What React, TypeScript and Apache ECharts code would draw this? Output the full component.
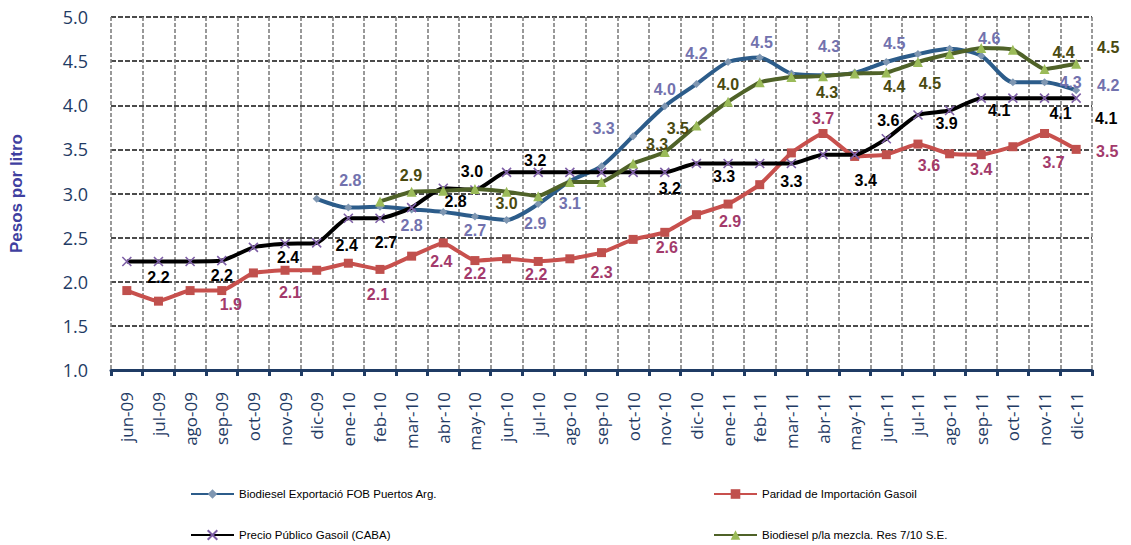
import React, { useEffect, useRef } from "react";
import * as echarts from "echarts";

const categories = [
  "jun-09", "jul-09", "ago-09", "sep-09", "oct-09", "nov-09", "dic-09",
  "ene-10", "feb-10", "mar-10", "abr-10", "may-10", "jun-10", "jul-10",
  "ago-10", "sep-10", "oct-10", "nov-10", "dic-10", "ene-11", "feb-11",
  "mar-11", "abr-11", "may-11", "jun-11", "jul-11", "ago-11", "sep-11",
  "oct-11", "nov-11", "dic-11",
];

const biodieselExport: (number | null)[] = [
  null, null, null, null, null, null, 2.94, 2.84, 2.85, 2.82, 2.79, 2.74,
  2.7, 2.88, 3.14, 3.31, 3.65, 3.99, 4.24, 4.49, 4.54, 4.36, 4.34, 4.37,
  4.49, 4.58, 4.64, 4.56, 4.26, 4.26, 4.17,
];

const paridadGasoil: (number | null)[] = [
  1.9, 1.78, 1.9, 1.9, 2.1, 2.13, 2.13, 2.21, 2.14, 2.29, 2.44, 2.24, 2.26,
  2.23, 2.26, 2.33, 2.48, 2.56, 2.76, 2.88, 3.1, 3.46, 3.68, 3.42, 3.44,
  3.56, 3.45, 3.44, 3.53, 3.68, 3.5,
];

const precioGasoil: (number | null)[] = [
  2.23, 2.23, 2.23, 2.24, 2.39, 2.43, 2.44, 2.72, 2.72, 2.84, 3.06, 3.04,
  3.24, 3.24, 3.24, 3.24, 3.24, 3.24, 3.34, 3.34, 3.34, 3.34, 3.44, 3.44,
  3.62, 3.89, 3.94, 4.08, 4.08, 4.08, 4.08,
];

const biodieselMezcla: (number | null)[] = [
  null, null, null, null, null, null, null, null, 2.91, 3.02, 3.03, 3.05,
  3.02, 2.97, 3.13, 3.13, 3.34, 3.47, 3.77, 4.04, 4.26, 4.32, 4.33, 4.36,
  4.37, 4.49, 4.58, 4.65, 4.63, 4.41, 4.47,
];

const yTicks = [1.0, 1.5, 2.0, 2.5, 3.0, 3.5, 4.0, 4.5, 5.0];

const seriesNames = [
  "Biodiesel Exportació FOB Puertos Arg.",
  "Paridad de Importación Gasoil",
  "Precio Público Gasoil (CABA)",
  "Biodiesel p/la mezcla. Res 7/10 S.E.",
];

// label placements (index -> offset from point)
const blueLabelPos: Record<number, [number, number]> = {
  7: [2, -27], 9: [0, 16], 11: [0, 14], 13: [-3, 19], 14: [0, 22],
  15: [2, -38], 17: [0, -17], 18: [0, -31], 20: [2, -15], 22: [6, -29],
  24: [8, -19], 27: [8, -17], 29: [26, 0], 30: [32, -5],
};
const redLabelPos: Record<number, [number, number]> = {
  3: [9, 14], 5: [5, 22], 8: [-2, 25], 10: [-2, 19], 11: [0, 13],
  13: [-2, 13], 15: [0, 20], 17: [2, 15], 19: [2, 17], 22: [0, -15],
  25: [11, 21], 27: [0, 15], 29: [9, 29], 30: [31, 2],
};
const blackLabelPos: Record<number, [number, number]> = {
  1: [0, 16], 3: [0, 15], 5: [3, 14], 6: [30, 3], 8: [6, 24], 9: [44, -6],
  11: [-3, -18], 13: [-3, -12], 17: [5, 16], 19: [-4, 13], 21: [0, 18],
  23: [11, 26], 24: [2, -18], 26: [-3, 13], 27: [18, 12], 29: [16, 15],
  30: [30, 20],
};
const greenLabelPos: Record<number, [number, number]> = {
  8: [31, -26], 12: [0, 12], 16: [24, -19], 17: [13, -24], 19: [0, -17],
  22: [4, 16], 24: [8, 14], 25: [12, 21], 29: [19, -17], 30: [32, -16],
};

function buildData(
  values: (number | null)[],
  pos: Record<number, [number, number]>,
  color: string
) {
  return values.map((v, i) => {
    if (v === null) return null;
    const p = pos[i];
    if (!p) return { value: v };
    return {
      value: v,
      label: {
        show: true,
        position: "inside",
        offset: p,
        align: "center",
        verticalAlign: "middle",
        color,
        fontFamily: "Liberation Sans, Arial, sans-serif",
        fontWeight: "bold",
        fontSize: 16,
        formatter: (d: any) => Number(d.value).toFixed(1),
      },
    };
  });
}

export default function App() {
  const ref = useRef<HTMLDivElement>(null);

  useEffect(() => {
    if (!ref.current) return;
    const chart = echarts.init(ref.current, null, { renderer: "svg" });

    const mkSeries = (
      name: string,
      values: (number | null)[],
      pos: Record<number, [number, number]>,
      lineColor: string,
      symbol: string,
      symbolSize: number,
      symColor: string,
      labelColor: string,
      z: number,
      smooth: number | boolean
    ) => ({
      name,
      type: "line",
      data: buildData(values, pos, labelColor),
      smooth,
      symbol,
      symbolSize,
      showSymbol: true,
      connectNulls: false,
      z,
      lineStyle: { color: lineColor, width: 4 },
      itemStyle: {
        color: symColor,
        borderColor: symColor,
        borderWidth: symbol.startsWith("path://") ? 1.6 : 0,
      },
      label: { show: false },
      emphasis: { disabled: true },
    });

    const legendBase = {
      orient: "vertical",
      top: 488,
      padding: 0,
      itemWidth: 43,
      itemHeight: 12,
      itemGap: 29,
      selectedMode: false,
      textStyle: {
        fontFamily: "Liberation Sans, Arial, sans-serif",
        fontSize: 11.5,
        color: "#000",
      },
    };

    const option: any = {
      animation: false,
      backgroundColor: "#ffffff",
      grid: { left: 107, top: 17, right: 39, bottom: 175, containLabel: false },
      legend: [
        { ...legendBase, left: 190, data: [seriesNames[0], seriesNames[2]] },
        { ...legendBase, left: 713, data: [seriesNames[1], seriesNames[3]] },
      ],
      xAxis: {
        type: "category",
        data: categories,
        boundaryGap: true,
        axisLine: { show: true, lineStyle: { color: "#1F3B64", width: 3 } },
        axisTick: {
          show: true,
          alignWithLabel: false,
          length: 6,
          lineStyle: { color: "#1F3B64", width: 3 },
        },
        axisLabel: {
          interval: 0,
          rotate: 90,
          margin: 22,
          color: "#1F3B64",
          fontFamily: "Open Sans, sans-serif",
          fontSize: 17,
        },
        splitLine: {
          show: true,
          interval: 0,
          lineStyle: { color: "#808080", width: 1.6, type: [4, 2] },
        },
      },
      yAxis: {
        type: "value",
        min: 1,
        max: 5,
        interval: 0.5,
        name: "Pesos por litro",
        nameLocation: "middle",
        nameRotate: 90,
        nameGap: 86,
        nameTextStyle: {
          color: "#3F3FA0",
          fontFamily: "Liberation Sans, Arial, sans-serif",
          fontWeight: "bold",
          fontSize: 17,
        },
        axisLine: { show: false },
        axisTick: { show: false },
        axisLabel: {
          margin: 23,
          color: "#1F3B64",
          fontFamily: "Open Sans, sans-serif",
          fontSize: 18,
          formatter: (v: number) =>
            yTicks.includes(v) ? v.toFixed(1) : "",
        },
        splitLine: {
          show: true,
          lineStyle: { color: "#111", width: 1.5, type: [5, 2] },
        },
      },
      series: [
        mkSeries(seriesNames[0], biodieselExport, blueLabelPos, "#2C5C8A", "diamond", 8, "#7F97B2", "#7272AE", 3, 0.25),
        mkSeries(seriesNames[1], paridadGasoil, redLabelPos, "#C8504D", "rect", 9, "#C0504D", "#A33A6B", 4, 0.12),
        mkSeries(seriesNames[2], precioGasoil, blackLabelPos, "#000000", "path://M0,0L10,10M10,0L0,10", 9, "#7E5FA6", "#000000", 5, 0.2),
        mkSeries(seriesNames[3], biodieselMezcla, greenLabelPos, "#4F6228", "triangle", 10, "#9BBB59", "#4A4A10", 6, 0.12),
      ],
    };

    chart.setOption(option);
    return () => chart.dispose();
  }, []);

  return (
    <div
      ref={ref}
      style={{ position: "fixed", left: 0, top: 0, width: 1131, height: 545 }}
    />
  );
}
